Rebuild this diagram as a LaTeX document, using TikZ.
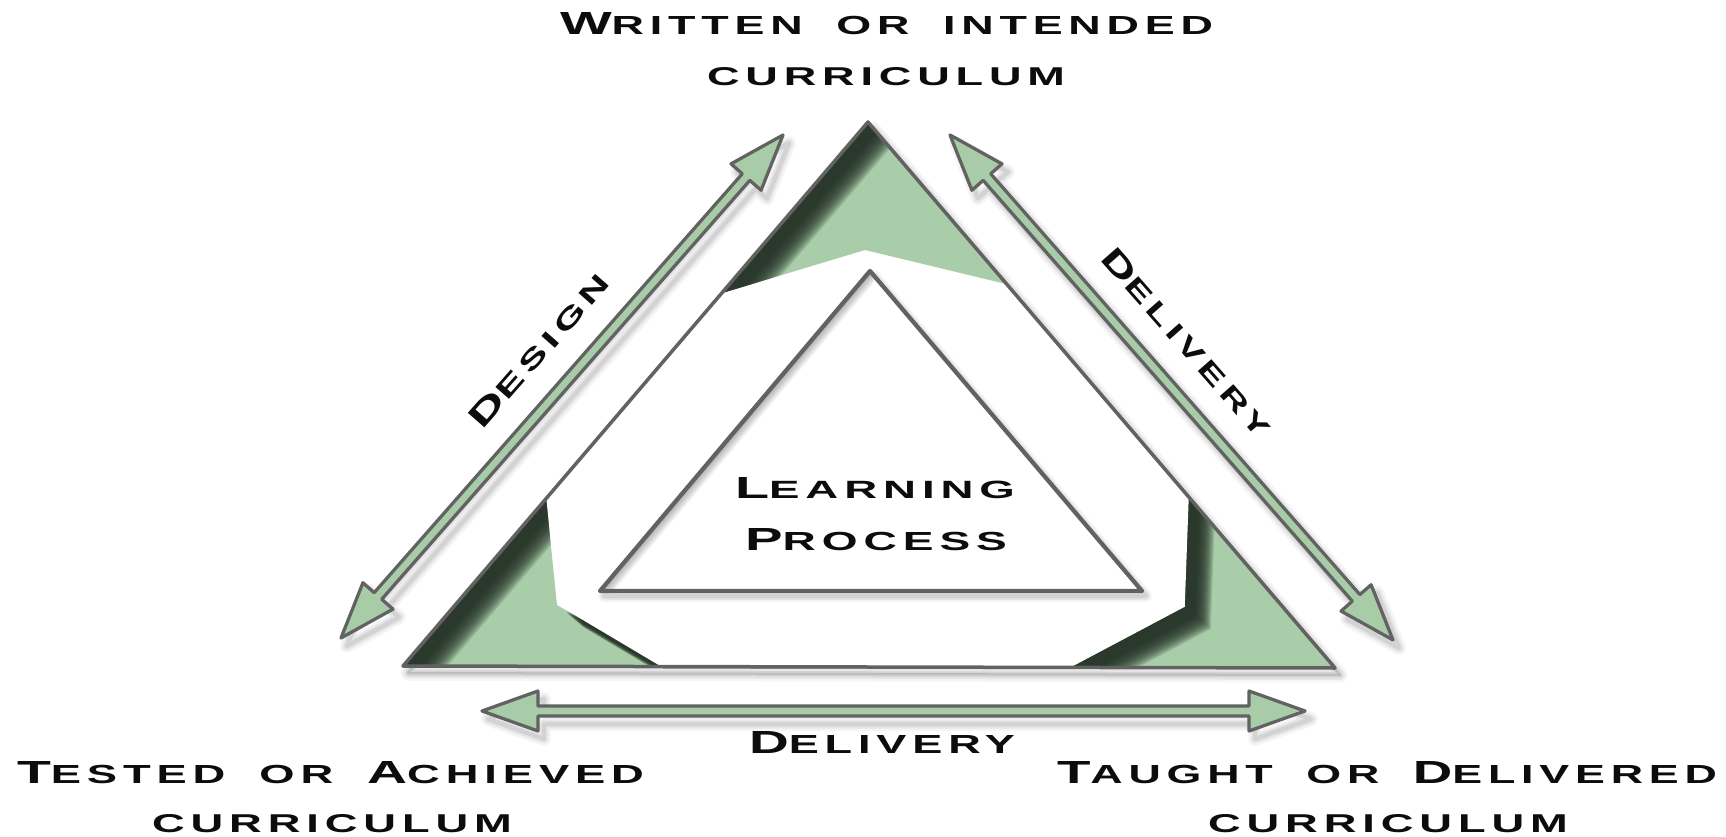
\documentclass[tikz,border=0pt]{standalone}
\usepackage{fontspec}
\usepackage{graphicx}
\usetikzlibrary{calc}
\newfontfamily\lblfont{Liberation Sans}[LetterSpace=13]
\newcommand\bigL[1]{{\fontsize{11}{12}\selectfont #1}}
\newcommand\smL[1]{{\fontsize{9}{10}\selectfont #1}}
\newcommand\wsp{\hspace{0.75em}}
\newcommand\fitlbl[3]{\resizebox{#1}{#2}{\lblfont\bfseries #3}}
\definecolor{leaf}{RGB}{169,205,169}
\definecolor{arrowleaf}{RGB}{168,204,168}
\definecolor{edgegray}{RGB}{98,98,98}
\definecolor{deepshade}{RGB}{33,46,36}
\definecolor{ink}{RGB}{12,12,12}
% double-headed block arrow between two named coordinates
\newcommand\dblarrow[3][]{%
  \coordinate (hb1) at ($(#2)!1.12cm!(#3)$);
  \coordinate (hb2) at ($(#3)!1.12cm!(#2)$);
  \path[#1] (#2) -- ($(hb1)!0.40cm!90:(#3)$) -- ($(hb1)!0.10cm!90:(#3)$)
    -- ($(hb2)!0.10cm!-90:(#2)$) -- ($(hb2)!0.40cm!-90:(#2)$) -- (#3)
    -- ($(hb2)!0.40cm!90:(#2)$) -- ($(hb2)!0.10cm!90:(#2)$)
    -- ($(hb1)!0.10cm!-90:(#3)$) -- ($(hb1)!0.40cm!-90:(#3)$) -- cycle;}
\tikzset{
  lbl/.style={inner sep=0pt, outer sep=0pt, text=ink, anchor=base west},
  rlbl/.style={inner sep=0pt, outer sep=0pt, text=ink, anchor=center},
  arrowbody/.style={fill=arrowleaf, draw=edgegray, line width=0.065cm, line join=round},
}
\begin{document}
\begin{tikzpicture}[x=0.02cm, y=-0.02cm, line join=round]
\fill[white] (0,0) rectangle (1726,837);
\useasboundingbox (0,0) rectangle (1726,837);

\def\outerpath{(868,122) -- (403,666) -- (1335,668) -- cycle}
\def\hexpath{(722,293) -- (865,250) -- (1006,284) -- (1189,497) -- (1185,607) -- (1070,668) -- (663,668) -- (557,605) -- (546,498) -- cycle}
\def\innerpath{(870,271) -- (600,591) -- (1142,591) -- cycle}

% soft drop shadow of the outer triangle
\begin{scope}[transform canvas={shift={(0.10cm,-0.14cm)}}]
  \foreach \w/\o in {0.30/0.04, 0.20/0.06, 0.11/0.08, 0.04/0.10}
    \draw[black, opacity=\o, line width=\w cm] \outerpath;
\end{scope}

% outer triangle with green corners
\fill[white] \outerpath;
\fill[leaf, even odd rule] \outerpath \hexpath;

% inner shading along the upper-left borders of the green corners
\begin{scope}[even odd rule]
  \clip \outerpath \hexpath;
  \foreach \k in {1,...,16}{
    \begin{scope}[shift={({9+1.05*\k},{7.5+0.9*\k})}]
      \fill[deepshade, fill opacity=0.14]
        (-300,-300) rectangle (2000,1200) \outerpath \hexpath;
    \end{scope}}
\end{scope}
\draw[edgegray, line width=0.07cm] \outerpath;

% learning process triangle
\begin{scope}[transform canvas={shift={(0.08cm,-0.10cm)}}]
  \foreach \w/\o in {0.24/0.04, 0.16/0.06, 0.09/0.08}
    \draw[black, opacity=\o, line width=\w cm] \innerpath;
\end{scope}
\fill[white] \innerpath;
\begin{scope}[even odd rule]
  \clip \innerpath;
  \foreach \k in {1,...,6}{
    \begin{scope}[shift={({1.3*\k},{1.1*\k})}]
      \fill[black, fill opacity=0.06]
        (-300,-300) rectangle (2000,1200) \innerpath;
    \end{scope}}
\end{scope}
\draw[edgegray, line width=0.085cm] \innerpath;

% arrow ends
\coordinate (dsA) at (341,638);
\coordinate (dsB) at (783,135);
\coordinate (dlA) at (950,135);
\coordinate (dlB) at (1393,640);
\coordinate (dbA) at (482,711);
\coordinate (dbB) at (1305,711);

% arrow shadows
\begin{scope}[transform canvas={shift={(0.12cm,-0.16cm)}}]
  \foreach \w/\o in {0.28/0.04, 0.18/0.06, 0.09/0.08}{
    \dblarrow[draw=black, opacity=\o, line width=\w cm]{dsA}{dsB}
    \dblarrow[draw=black, opacity=\o, line width=\w cm]{dlA}{dlB}
    \dblarrow[draw=black, opacity=\o, line width=\w cm]{dbA}{dbB}
  }
\end{scope}
% arrows
\dblarrow[arrowbody]{dsA}{dsB}
\dblarrow[arrowbody]{dlA}{dlB}
\dblarrow[arrowbody]{dbA}{dbB}

% labels
\node[lbl] (writtenA) at (560,35) {\fitlbl{13.06cm}{0.44cm}{\bigL{W}\smL{RITTEN\wsp OR\wsp INTENDED}}};
\node[lbl] (writtenB) at (707,86) {\fitlbl{7.16cm}{0.36cm}{\smL{CURRICULUM}}};
\node[lbl] (testedA) at (17,783) {\fitlbl{12.54cm}{0.44cm}{\bigL{T}\smL{ESTED\wsp OR\wsp }\bigL{A}\smL{CHIEVED}}};
\node[lbl] (testedB) at (152,832) {\fitlbl{7.2cm}{0.36cm}{\smL{CURRICULUM}}};
\node[lbl] (taughtA) at (1057,783) {\fitlbl{13.2cm}{0.44cm}{\bigL{T}\smL{AUGHT\wsp OR\wsp }\bigL{D}\smL{ELIVERED}}};
\node[lbl] (taughtB) at (1208,832) {\fitlbl{7.2cm}{0.36cm}{\smL{CURRICULUM}}};
\node[lbl] (delivB) at (749,753) {\fitlbl{5.32cm}{0.44cm}{\bigL{D}\smL{ELIVERY}}};
\node[lbl] (learnA) at (735,498) {\fitlbl{5.6cm}{0.42cm}{\bigL{L}\smL{EARNING}}};
\node[lbl] (learnB) at (745,550) {\fitlbl{5.24cm}{0.44cm}{\bigL{P}\smL{ROCESS}}};
\node[rlbl, rotate=48.7] (design) at (539,350) {\fitlbl{3.9cm}{0.44cm}{\bigL{D}\smL{ESIGN}}};
\node[rlbl, rotate=-48.7] (delivR) at (1187,342) {\fitlbl{4.8cm}{0.44cm}{\bigL{D}\smL{ELIVERY}}};
\end{tikzpicture}
\end{document}
